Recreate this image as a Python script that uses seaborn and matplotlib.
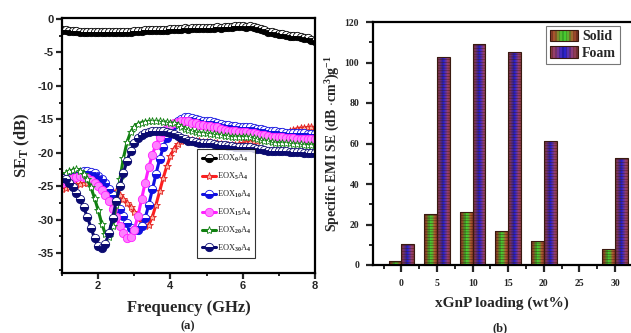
import numpy as np
import pandas as pd
import matplotlib
matplotlib.use("Agg")
import matplotlib.pyplot as plt
import seaborn as sns
from matplotlib.patches import Rectangle
from matplotlib.legend_handler import HandlerBase
from matplotlib.colors import LinearSegmentedColormap
from matplotlib.ticker import MultipleLocator

# ---------------- data: panel (a) ----------------
freq_ghz = [round(1.0 + 0.1 * i, 1) for i in range(71)]

se_eox0 = [-1.7, -1.7, -1.8, -1.8, -1.8, -1.9, -1.9, -1.9, -1.9, -1.9,
           -2.0, -2.0, -2.0, -2.0, -2.0, -2.0, -1.9, -1.9, -1.9, -1.9,
           -1.8, -1.8, -1.8, -1.7, -1.7, -1.7, -1.6, -1.6, -1.6, -1.6,
           -1.5, -1.5, -1.5, -1.5, -1.4, -1.5, -1.4, -1.4, -1.4, -1.3,
           -1.3, -1.3, -1.3, -1.2, -1.3, -1.2, -1.2, -1.2, -1.1, -1.1,
           -1.1, -1.2, -1.1, -1.2, -1.3, -1.5, -1.7, -1.9, -2.0, -2.1,
           -2.2, -2.3, -2.4, -2.5, -2.6, -2.6, -2.7, -2.8, -2.9, -3.1, -3.3]

se_eox5 = [-25.5, -25.3, -25.1, -24.9, -24.8, -24.7, -24.6, -24.5, -24.5, -24.6,
           -24.8, -25.0, -25.3, -25.6, -25.9, -25.8, -26.3, -26.9, -27.5, -28.1,
           -28.8, -29.6, -30.4, -31.0, -30.8, -29.6, -27.8, -25.8, -23.8, -22.0,
           -20.5, -19.4, -18.7, -18.3, -18.0, -18.0, -18.1, -18.2, -18.3, -18.4,
           -18.4, -18.4, -18.5, -18.6, -18.7, -18.8, -18.8, -18.8, -18.8, -18.7,
           -18.6, -18.5, -18.4, -18.3, -18.2, -18.1, -18.0, -17.9, -17.8, -17.7,
           -17.6, -17.4, -17.1, -16.8, -16.6, -16.4, -16.3, -16.3, -16.2, -16.2, -16.2]

se_eox10 = [-23.8, -23.6, -23.4, -23.2, -23.0, -22.9, -22.8, -22.8, -22.9, -23.1,
            -23.5, -24.0, -24.6, -25.4, -26.3, -27.3, -28.4, -29.5, -30.5, -31.2,
            -31.5, -31.5, -31.0, -29.8, -27.8, -25.5, -23.2, -21.0, -19.2, -17.8,
            -16.7, -15.9, -15.3, -14.9, -14.7, -14.7, -14.8, -15.0, -15.1, -15.2,
            -15.3, -15.3, -15.4, -15.5, -15.7, -15.8, -15.9, -16.0, -16.0, -16.1,
            -16.1, -16.1, -16.2, -16.3, -16.4, -16.5, -16.6, -16.7, -16.8, -16.8,
            -16.9, -16.9, -17.0, -17.0, -17.0, -17.1, -17.1, -17.1, -17.2, -17.2, -17.2]

se_eox15 = [-24.5, -24.3, -24.0, -23.8, -23.6, -23.5, -23.6, -23.8, -24.1, -24.5,
            -25.0, -25.6, -26.4, -27.3, -28.4, -29.6, -30.9, -32.0, -32.7, -32.6,
            -31.5, -29.5, -27.0, -24.5, -22.2, -20.3, -18.8, -17.7, -16.9, -16.3,
            -15.9, -15.6, -15.4, -15.3, -15.2, -15.3, -15.5, -15.6, -15.8, -15.9,
            -16.0, -16.0, -16.1, -16.2, -16.4, -16.6, -16.7, -16.8, -16.8, -16.9,
            -16.9, -16.9, -17.0, -17.1, -17.2, -17.3, -17.4, -17.5, -17.6, -17.6,
            -17.7, -17.7, -17.8, -17.8, -17.8, -17.9, -17.9, -17.9, -18.0, -18.0, -18.0]

se_eox20 = [-23.5, -23.1, -22.8, -22.6, -22.5, -22.7, -23.2, -24.0, -25.2, -26.8,
            -28.6, -30.6, -32.2, -32.6, -31.0, -27.8, -24.0, -20.8, -18.4, -16.9,
            -16.1, -15.7, -15.5, -15.4, -15.3, -15.3, -15.3, -15.3, -15.4, -15.4,
            -15.5, -15.6, -15.8, -16.1, -16.4, -16.6, -16.8, -16.9, -17.0, -17.1,
            -17.1, -17.2, -17.2, -17.3, -17.4, -17.5, -17.5, -17.6, -17.6, -17.6,
            -17.6, -17.6, -17.7, -17.8, -18.0, -18.1, -18.2, -18.3, -18.4, -18.5,
            -18.5, -18.5, -18.6, -18.6, -18.7, -18.7, -18.7, -18.8, -18.8, -18.8, -18.8]

se_eox30 = [-23.8, -24.0, -24.5, -25.2, -26.0, -27.0, -28.2, -29.6, -31.2, -32.8,
            -34.0, -34.3, -33.6, -32.0, -29.8, -27.3, -25.0, -23.0, -21.2, -19.7,
            -18.6, -17.8, -17.3, -17.0, -16.9, -16.8, -16.8, -16.8, -16.8, -16.9,
            -17.0, -17.2, -17.5, -17.8, -18.0, -18.2, -18.3, -18.4, -18.5, -18.5,
            -18.6, -18.6, -18.7, -18.8, -18.9, -18.9, -19.0, -19.0, -19.1, -19.1,
            -19.2, -19.2, -19.2, -19.3, -19.4, -19.5, -19.6, -19.7, -19.7, -19.8,
            -19.8, -19.8, -19.8, -19.9, -19.9, -19.9, -19.9, -20.0, -20.0, -20.0, -20.0]

series_labels = ["EOX$_0$A$_4$", "EOX$_5$A$_4$", "EOX$_{10}$A$_4$",
                 "EOX$_{15}$A$_4$", "EOX$_{20}$A$_4$", "EOX$_{30}$A$_4$"]

# ---------------- data: panel (b) ----------------
loading_labels = ["0", "5", "10", "15", "20", "25", "30"]
solid_vals = [2.0, 25.0, 26.0, 17.0, 12.0, 0.0, 8.0]
foam_vals = [10.5, 102.5, 109.0, 105.0, 61.0, 0.0, 53.0]

# ---------------- style ----------------
sns.set_theme(style="white")
plt.rcParams["font.family"] = ["Liberation Serif", "DejaVu Serif"]
plt.rcParams["font.weight"] = "bold"
plt.rcParams["axes.labelweight"] = "bold"
plt.rcParams["axes.unicode_minus"] = False
plt.rcParams["mathtext.fontset"] = "custom"
plt.rcParams["mathtext.rm"] = "Liberation Serif:bold"
plt.rcParams["mathtext.it"] = "Liberation Serif:italic:bold"
plt.rcParams["mathtext.bf"] = "Liberation Serif:bold"
plt.rcParams["hatch.linewidth"] = 0.3

fig = plt.figure(figsize=(6.31, 3.33), dpi=100)
ax1 = fig.add_axes([62 / 631, 1 - 273 / 333, (315 - 62) / 631, (273 - 18) / 333])
ax2 = fig.add_axes([373 / 631, 1 - 265 / 333, (631 - 373) / 631, (265 - 22) / 333])

# ---------------- panel (a) ----------------
styles = [
    dict(color="black", marker="o", fillstyle="top", markerfacecolor="white",
         markerfacecoloralt="black", markeredgecolor="black"),
    dict(color="#ff2020", marker="*", markerfacecolor="#ffb0a0",
         markeredgecolor="#e02020"),
    dict(color="#1010e0", marker="o", fillstyle="top", markerfacecolor="white",
         markerfacecoloralt="#1010e0", markeredgecolor="#1010e0"),
    dict(color="#ff20ff", marker="o", markerfacecolor="#ff80ff",
         markeredgecolor="#ff20ff"),
    dict(color="#108010", marker="*", markerfacecolor="white",
         markeredgecolor="#108010"),
    dict(color="#0a0a70", marker="o", fillstyle="top", markerfacecolor="white",
         markerfacecoloralt="#0a0a70", markeredgecolor="#0a0a70"),
]
all_series = [se_eox0, se_eox5, se_eox10, se_eox15, se_eox20, se_eox30]
for vals, lab, st in zip(all_series, series_labels, styles):
    sns.lineplot(x=freq_ghz, y=vals, ax=ax1, label=lab, linewidth=2.2,
                 markersize=6, markeredgewidth=0.6, **st)

ax1.set_xlim(1, 8)
ax1.set_ylim(-38, 0.15)
ax1.xaxis.set_major_locator(MultipleLocator(2))
ax1.xaxis.set_minor_locator(MultipleLocator(1))
ax1.yaxis.set_major_locator(MultipleLocator(5))
ax1.yaxis.set_minor_locator(MultipleLocator(2.5))
ax1.set_yticks([0, -5, -10, -15, -20, -25, -30, -35])
ax1.tick_params(which="major", direction="out", length=4, width=1.6,
                labelsize=8, pad=2, bottom=True, left=True)
ax1.tick_params(which="minor", direction="out", length=2.5, width=1.4,
                bottom=True, left=True)
for lab in ax1.get_xticklabels() + ax1.get_yticklabels():
    lab.set_family(["Liberation Sans Narrow", "Liberation Sans", "DejaVu Sans"])
    lab.set_fontweight("bold")
for sp in ax1.spines.values():
    sp.set_linewidth(1.6)
    sp.set_color("black")
ax1.set_xlabel("Frequency (GHz)", fontsize=12, labelpad=6)
ax1.set_ylabel("SE$_\\mathrm{T}$ (dB)", fontsize=12, labelpad=4)

leg1 = ax1.legend(loc="lower left", bbox_to_anchor=(0.535, 0.06),
                  prop={"family": "Liberation Serif", "weight": "normal", "size": 6},
                  handlelength=1.7, handletextpad=0.1, labelspacing=0.8,
                  borderpad=0.5, frameon=True, fancybox=False,
                  edgecolor="black", borderaxespad=0)
leg1.get_frame().set_linewidth(0.8)

# ---------------- panel (b) ----------------
df = pd.DataFrame({
    "loading": loading_labels * 2,
    "type": ["Solid"] * len(solid_vals) + ["Foam"] * len(foam_vals),
    "value": solid_vals + foam_vals,
})
sns.barplot(data=df, x="loading", y="value", hue="type", order=loading_labels,
            hue_order=["Solid", "Foam"], width=0.72, errorbar=None,
            palette=["#5a9a30", "#4a30b0"], edgecolor="#3a1a10", linewidth=0.8,
            ax=ax2, legend=False)

solid_cols = ["#8a3a28", "#b05a30", "#60b030", "#40d030", "#60b030", "#b05a30", "#8a3a28"]
foam_cols = ["#8a3a40", "#9a4070", "#5a30b0", "#2020d0", "#5a30b0", "#9a4070", "#8a3a40"]


def stripe_colors(cols, n=28):
    cmap = LinearSegmentedColormap.from_list("g", cols)
    out = []
    for k in range(n):
        c = np.array(cmap(k / (n - 1))[:3])
        if k % 2 == 1:
            c = c * 0.82
        out.append(c)
    return np.array(out)


for cont, cols in zip(ax2.containers, [solid_cols, foam_cols]):
    img = stripe_colors(cols)[None, :, :]
    for bar in cont:
        h = bar.get_height()
        if h <= 0:
            continue
        x0, w = bar.get_x(), bar.get_width()
        im = ax2.imshow(img, extent=(x0, x0 + w, 0, h), aspect="auto",
                        interpolation="nearest", zorder=1.5)
        im.set_clip_path(bar)
        bar.set_facecolor("none")
        bar.set_hatch("------")
        bar.set_zorder(2)

ax2.set_xlim(-0.8, 6.45)
ax2.set_ylim(0, 120)
ax2.set_aspect("auto")
ax2.yaxis.set_major_locator(MultipleLocator(20))
ax2.yaxis.set_minor_locator(MultipleLocator(10))
ax2.xaxis.set_minor_locator(MultipleLocator(0.5))
ax2.tick_params(which="major", direction="out", length=5, width=1.6,
                labelsize=7, pad=5, bottom=True, left=True)
ax2.tick_params(which="minor", direction="out", length=3, width=1.4,
                bottom=True, left=True)
for sp in ax2.spines.values():
    sp.set_linewidth(1.6)
    sp.set_color("black")
ax2.spines["right"].set_visible(False)
ax2.set_xlabel("xGnP loading (wt%)", fontsize=11, labelpad=6)
ax2.set_ylabel("Specific EMI SE (dB $\\cdot$cm$^3$)g$^{-1}$", fontsize=10, labelpad=2)


class GradHandler(HandlerBase):
    def __init__(self, cols):
        super().__init__()
        self.cols = stripe_colors(cols, 16)

    def create_artists(self, legend, orig_handle, xdescent, ydescent, width,
                       height, fontsize, trans):
        arts = []
        n = len(self.cols)
        for k, c in enumerate(self.cols):
            arts.append(Rectangle((-xdescent + k * width / n, -ydescent), width / n,
                                  height, facecolor=c, edgecolor="none",
                                  transform=trans))
        arts.append(Rectangle((-xdescent, -ydescent), width, height, fill=False,
                              edgecolor="#3a1a10", lw=0.8, transform=trans))
        return arts


h_solid = Rectangle((0, 0), 1, 1)
h_foam = Rectangle((0, 0), 1, 1)
leg2 = ax2.legend([h_solid, h_foam], ["Solid", "Foam"], loc="upper left",
                  bbox_to_anchor=(0.67, 0.985),
                  handler_map={h_solid: GradHandler(solid_cols),
                               h_foam: GradHandler(foam_cols)},
                  prop={"family": "Liberation Serif", "weight": "bold", "size": 10},
                  handlelength=2.0, handleheight=0.9, handletextpad=0.3,
                  labelspacing=0.2, borderpad=0.3, frameon=True, fancybox=False,
                  edgecolor="#555555", borderaxespad=0)
leg2.get_frame().set_linewidth(0.8)

fig.text(188 / 631, 1 - 326 / 333, "(a)", ha="center", va="center", fontsize=9,
         fontweight="bold")
fig.text(500 / 631, 1 - 328 / 333, "(b)", ha="center", va="center", fontsize=9,
         fontweight="bold")

fig.savefig("out.png", dpi=100, facecolor="white")
